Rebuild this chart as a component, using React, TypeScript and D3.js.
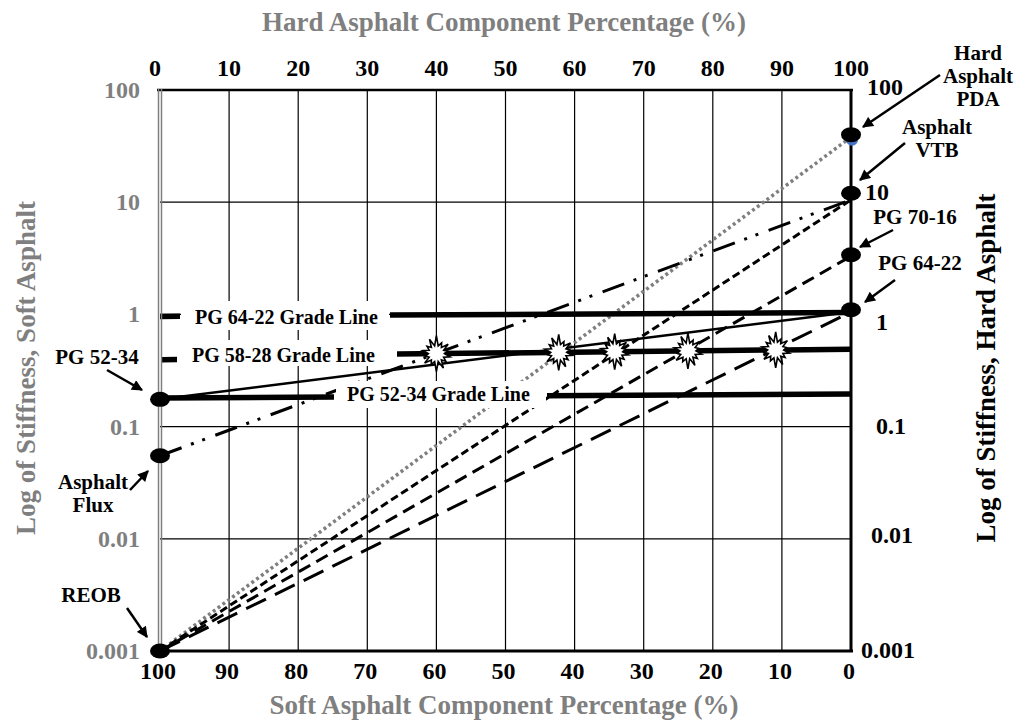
import React from "react";
import * as d3 from "d3";

// ---------- data ----------
const hardPctTicks = [0, 10, 20, 30, 40, 50, 60, 70, 80, 90, 100];
const softPctTicks = [100, 90, 80, 70, 60, 50, 40, 30, 20, 10, 0];
const stiffTicks = [100, 10, 1, 0.1, 0.01, 0.001];
const stiffTickLabels = ["100", "10", "1", "0.1", "0.01", "0.001"];

const softNames = ["REOB", "Asphalt Flux", "PG 52-34"];
const softStiff = [0.001, 0.055, 0.175];
const hardNames = ["Hard Asphalt PDA", "Asphalt VTB", "PG 70-16", "PG 64-22"];
const hardStiff = [40, 12, 3.4, 1.1];

// blend lines: stiffness at 0% hard and at 100% hard
const blendNames = ["REOB-PDA", "REOB-VTB", "REOB-PG70-16", "REOB-PG64-22", "Flux-VTB", "PG52-34-PG64-22"];
const blendStart = [0.001, 0.001, 0.001, 0.001, 0.055, 0.175];
const blendEnd = [38, 10.5, 3.3, 1.05, 10.5, 1.05];

const gradeNames = ["PG 64-22 Grade Line", "PG 58-28 Grade Line", "PG 52-34 Grade Line"];
const gradeAt0 = [0.96, 0.42, 0.18];
const gradeAt100 = [1.04, 0.49, 0.195];

// blend percentages (hard %) where blends meet the PG 58-28 grade line
const crossPct = [40, 57.7, 65.8, 76.4, 89.1];

// ---------- layout / styles ----------
const W = 1018;
const H = 722;
const FONT = "'Liberation Serif', 'Times New Roman', serif";
const GRAY = "#7f7f7f";

const blendStyles = [
  { stroke: GRAY, width: 3.5, dash: "3 3" },
  { stroke: "#000", width: 3, dash: "8 4" },
  { stroke: "#000", width: 3, dash: "13 7" },
  { stroke: "#000", width: 3, dash: "22 10" },
  { stroke: "#000", width: 3, dash: "23 10 3 9 3 11" },
  { stroke: "#000", width: 2.5, dash: null as string | null },
];

export default function App() {
  const x = d3.scaleLinear().domain([0, 100]).range([160, 851]);
  const y = d3.scaleLog().domain([0.001, 100]).range([651, 90]);

  const gradeY = (i: number, px: number) => {
    const t = x.invert(px) / 100;
    const l0 = Math.log10(gradeAt0[i]);
    const l1 = Math.log10(gradeAt100[i]);
    return y(Math.pow(10, l0 + (l1 - l0) * t));
  };

  // grade line segments in px (layout around labels)
  const gradeSegs: [number, number, number][][] = [
    [[160, 180, 0], [390, 851, 0]],
    [[162, 177, 3], [397, 851, 0]],
    [[160, 334, 0], [547, 851, 0]],
  ];
  const labelBoxes = [
    { x0: 181, x1: 389, y0: 301, y1: 330, tx: 195, ty: 324 },
    { x0: 178, x1: 396, y0: 340, y1: 366, tx: 192, ty: 362 },
    { x0: 336, x1: 546, y0: 381, y1: 408, tx: 347, ty: 401 },
  ];

  const rightTickOffsets = [
    [0, -3],
    [-8, -10],
    [-3, 8],
    [6, -1],
    [7, -4],
    [3, -1],
  ];

  const starPath = (() => {
    const n = 14;
    const pts: [number, number][] = [];
    const outer = [18, 12, 15, 11, 14, 12, 16, 18, 12, 15, 11, 14, 12, 16];
    for (let k = 0; k < n * 2; k++) {
      const a = (k * Math.PI) / n;
      const r = k % 2 === 0 ? outer[k / 2] : 8;
      pts.push([a, r]);
    }
    return d3.lineRadial().curve(d3.curveLinearClosed)(pts) || "";
  })();

  const annotations = [
    { lines: ["Hard", "Asphalt", "PDA"], cx: 978, by: 60, from: [940, 75], to: [863, 127] },
    { lines: ["Asphalt", "VTB"], cx: 937, by: 134, from: [905, 143], to: [860, 180] },
    { lines: ["PG 70-16"], cx: 915, by: 224, from: [893, 230], to: [860, 247] },
    { lines: ["PG 64-22"], cx: 920, by: 270, from: [895, 280], to: [865, 302] },
    { lines: ["PG 52-34"], cx: 97, by: 364, from: [107, 370], to: [142, 390] },
    { lines: ["Asphalt", "Flux"], cx: 93, by: 489, from: [130, 490], to: [148, 471] },
    { lines: ["REOB"], cx: 91, by: 602, from: [127, 608], to: [147, 637] },
  ];

  return (
    <svg
      width={W}
      height={H}
      viewBox={`0 0 ${W} ${H}`}
      style={{ position: "absolute", left: 0, top: 0, background: "#fff" }}
      fontFamily={FONT}
      fontWeight="bold"
    >
      <defs>
        <marker id="arrow" viewBox="0 0 10 10" refX="9" refY="5" markerWidth="12" markerHeight="11" markerUnits="userSpaceOnUse" orient="auto">
          <path d="M0,0 L10,5 L0,10 z" fill="#000" />
        </marker>
      </defs>
      <rect x={0} y={0} width={W} height={H} fill="#fff" />

      {/* grid */}
      {hardPctTicks.slice(1, -1).map((v) => (
        <line key={"vg" + v} x1={x(v)} x2={x(v)} y1={y(100)} y2={y(0.001)} stroke="#000" strokeWidth={1.2} />
      ))}
      {stiffTicks.slice(1, -1).map((v) => (
        <line key={"hg" + v} x1={x(0)} x2={x(100)} y1={y(v)} y2={y(v)} stroke="#000" strokeWidth={1.2} />
      ))}

      {/* blend lines */}
      {blendNames.map((n, i) => (
        <line
          key={n}
          x1={x(0)}
          y1={y(blendStart[i])}
          x2={x(100)}
          y2={y(blendEnd[i])}
          stroke={blendStyles[i].stroke}
          strokeWidth={blendStyles[i].width}
          strokeDasharray={blendStyles[i].dash || undefined}
        />
      ))}

      {/* label boxes and grade lines */}
      {labelBoxes.map((b, i) => (
        <rect key={"lb" + i} x={b.x0} y={b.y0} width={b.x1 - b.x0} height={b.y1 - b.y0} fill="#fff" />
      ))}
      {gradeNames.map((n, i) => (
        <g key={n}>
          {gradeSegs[i].map(([a, b, dy], k) => (
            <line key={k} x1={a} x2={b} y1={gradeY(i, a) + dy} y2={gradeY(i, b) + dy} stroke="#000" strokeWidth={5.5} />
          ))}
          <text x={labelBoxes[i].tx} y={labelBoxes[i].ty} fontSize={20} fill="#000">
            {n}
          </text>
        </g>
      ))}

      {/* frame */}
      <line x1={157} x2={853} y1={90} y2={90} stroke="#000" strokeWidth={2.5} />
      <line x1={851} x2={851} y1={89} y2={652} stroke="#000" strokeWidth={3} />
      <line x1={158} x2={853} y1={651} y2={651} stroke="#000" strokeWidth={3} />
      <line x1={158.5} x2={158.5} y1={89} y2={652} stroke={GRAY} strokeWidth={1.5} />
      <line x1={161.5} x2={161.5} y1={89} y2={652} stroke={GRAY} strokeWidth={1.5} />

      {/* starbursts */}
      {crossPct.map((p) => (
        <path key={"st" + p} d={starPath} transform={`translate(${x(p)},${gradeY(1, x(p))})`} fill="#fff" stroke="#000" strokeWidth={1.6} />
      ))}

      {/* end markers */}
      <circle cx={x(100) + 1} cy={y(hardStiff[0]) + 5} r={6} fill="#4472c4" />
      {softNames.map((n, i) => (
        <ellipse key={n} cx={x(0)} cy={y(softStiff[i])} rx={10} ry={7.5} fill="#000" />
      ))}
      {hardNames.map((n, i) => (
        <ellipse key={n} cx={x(100)} cy={y(hardStiff[i])} rx={10} ry={7.5} fill="#000" />
      ))}

      {/* axes tick labels */}
      {hardPctTicks.map((v) => (
        <text key={"t" + v} x={x(v) - (v === 0 ? 5 : 0)} y={76} fontSize={24} textAnchor="middle" fill="#000">
          {v}
        </text>
      ))}
      {softPctTicks.map((v) => (
        <text key={"b" + v} x={x(100 - v) - 2} y={679} fontSize={24} textAnchor="middle" fill="#000">
          {v}
        </text>
      ))}
      {stiffTicks.map((v, i) => (
        <text key={"l" + v} x={140} y={y(v) + 8} fontSize={24} textAnchor="end" fill={GRAY}>
          {stiffTickLabels[i]}
        </text>
      ))}
      {stiffTicks.map((v, i) => (
        <text key={"r" + v} x={885 + rightTickOffsets[i][0]} y={y(v) + 8 + rightTickOffsets[i][1]} fontSize={24} textAnchor="middle" fill="#000">
          {stiffTickLabels[i]}
        </text>
      ))}

      {/* titles */}
      <text x={504} y={31} fontSize={27} textAnchor="middle" fill={GRAY}>
        Hard Asphalt Component Percentage (%)
      </text>
      <text x={504} y={714} fontSize={27} textAnchor="middle" fill={GRAY}>
        Soft Asphalt Component Percentage (%)
      </text>
      <text transform="translate(35,368) rotate(-90)" fontSize={27} textAnchor="middle" fill={GRAY}>
        Log of Stiffness, Soft Asphalt
      </text>
      <text transform="translate(995,368) rotate(-90)" fontSize={27} textAnchor="middle" fill="#000">
        Log of Stiffness, Hard Asphalt
      </text>

      {/* annotations */}
      {annotations.map((a, i) => (
        <g key={"an" + i}>
          {a.lines.map((l, k) => (
            <text key={k} x={a.cx} y={a.by + k * 23} fontSize={21} textAnchor="middle" fill="#000">
              {l}
            </text>
          ))}
          <line x1={a.from[0]} y1={a.from[1]} x2={a.to[0]} y2={a.to[1]} stroke="#000" strokeWidth={2.5} markerEnd="url(#arrow)" />
        </g>
      ))}
    </svg>
  );
}
